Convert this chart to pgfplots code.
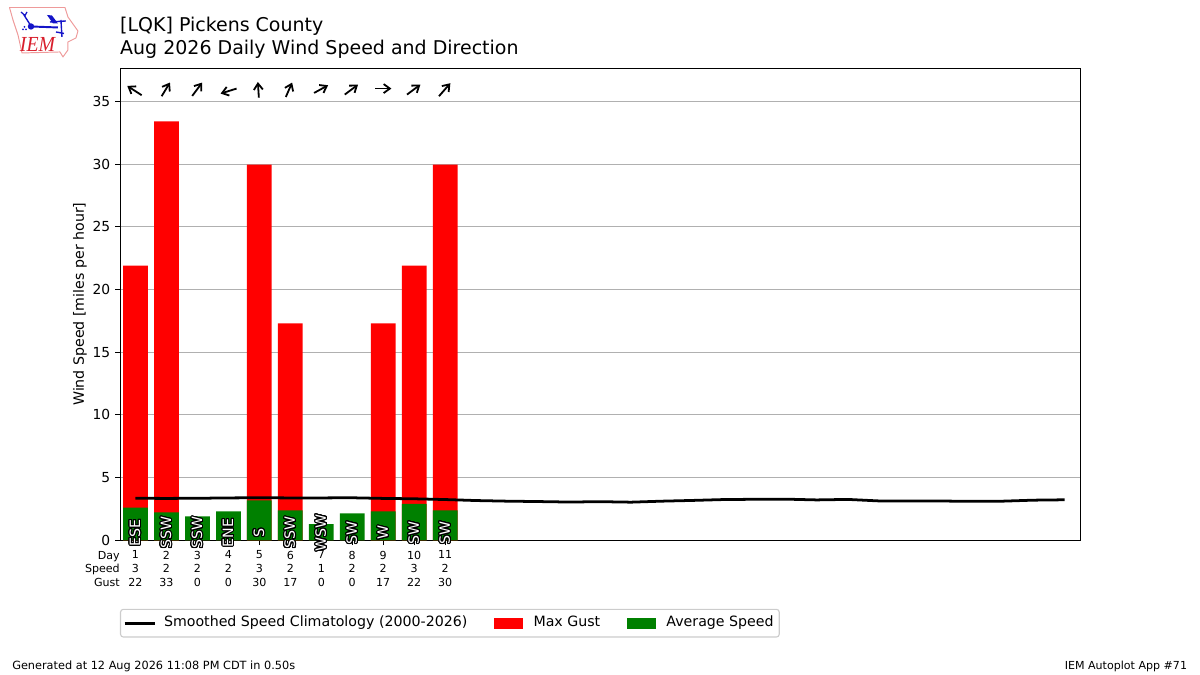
\documentclass[border=0pt]{standalone}
\usepackage{fontspec}
\setmainfont{DejaVu Sans}
\newfontfamily\logofont{Liberation Serif}
\usepackage{pgfplots}
\usepackage{pgfplotstable}
\usepackage{contour}
\pgfplotsset{compat=1.18}
\usetikzlibrary{arrows.meta}
\contourlength{0.75pt}
\contournumber{24}
\definecolor{gridgray}{HTML}{B0B0B0}
\definecolor{iemred}{HTML}{D81E2C}
\definecolor{iempink}{HTML}{EE9A9A}
\definecolor{iemblue}{HTML}{1414C8}
\definecolor{mplgreen}{HTML}{008000}
\definecolor{legframe}{HTML}{CCCCCC}

% day, average speed, max gust, direction label
\pgfplotstableread{
day avg gust dir y
1 2.60 21.9 ESE 0.6
2 2.23 33.4 SSW 0.6
3 1.91 0 SSW 0.6
4 2.31 0 ENE 0.6
5 3.19 29.95 S 0.6
6 2.39 17.3 SSW 0.6
7 1.28 0 WSW 0.6
8 2.15 0 SW 0.6
9 2.31 17.3 W 0.6
10 2.90 21.9 SW 0.6
11 2.39 29.95 SW 0.6
}\obs

\pgfplotstableread{
day clim
1 3.35
2 3.34
3 3.35
4 3.38
5 3.39
6 3.38
7 3.38
8 3.39
9 3.34
10 3.31
11 3.25
12 3.17
13 3.12
14 3.09
15 3.05
16 3.08
17 3.04
18 3.12
19 3.18
20 3.25
21 3.27
22 3.28
23 3.22
24 3.26
25 3.14
26 3.13
27 3.13
28 3.11
29 3.12
30 3.20
31 3.23
}\clim

% arrow tail and components, in axis units
\pgfplotstableread{
x y u v
1.200 35.49 -0.465 0.740
1.845 35.41 0.268 1.090
2.832 35.43 0.323 1.070
4.265 36.02 -0.516 -0.400
4.984 35.30 -0.032 1.244
5.855 35.35 0.203 1.148
6.768 35.67 0.452 0.614
7.758 35.54 0.429 0.797
8.748 36.02 0.516 0
9.768 35.54 0.432 0.797
10.800 35.41 0.368 1.037
}\winddir

\begin{document}
\begin{tikzpicture}
\path[use as bounding box] (0,0) rectangle (12in,6.75in);
\begin{axis}[
    at={(1.2in,1.347in)},
    anchor=south west,
    scale only axis,
    width=9.6in,
    height=4.723in,
    xmin=0.5, xmax=31.5,
    ymin=0, ymax=37.66,
    clip=false,
    axis line style={line width=0.6pt},
    tick style={black, line width=0.7pt},
    tick align=outside,
    major tick length=3.5pt,
    xtick pos=bottom,
    ytick pos=left,
    ytick={0,5,...,35},
    ymajorgrids,
    grid style={gridgray, line width=0.8pt},
    /pgf/number format/assume math mode=true,
    tick label style={font=\fontsize{10}{12}\selectfont},
    xtick={1,...,11},
    xticklabels={{1\\3\\22},{2\\2\\33},{3\\2\\0},{4\\2\\0},{5\\3\\30},{6\\2\\17},{7\\1\\0},{8\\2\\0},{9\\2\\17},{10\\3\\22},{11\\2\\30}},
    x tick label style={font=\fontsize{8}{9.8}\selectfont, align=center, yshift=-0.6pt},
    ylabel={Wind Speed [miles per hour]},
    ylabel style={font=\fontsize{10.25}{12}\selectfont, yshift=-2.7pt},
    legend style={
        at={(0,-0.145)}, anchor=north west,
        draw=legframe, line width=0.8pt, rounded corners=2pt,
        font=\fontsize{10.25}{12}\selectfont,
        nodes={text height=7.6pt, text depth=2.4pt},
        /tikz/every even column/.append style={column sep=17pt},
        inner xsep=2pt, inner ysep=3pt,
    },
    legend cell align=left,
    legend columns=3,
]
\addplot[ybar, bar width=0.8, bar shift=0pt, fill=red, draw=none, forget plot] table[x=day, y=gust] {\obs};
\addplot[ybar, bar width=0.8, bar shift=0pt, fill=mplgreen, draw=none, forget plot] table[x=day, y=avg] {\obs};
\addplot[black, line width=2pt, forget plot] table[x=day, y=clim] {\clim};

% wind direction arrows
\addplot[black, line width=1.3pt, forget plot,
    quiver={u=\thisrow{u}, v=\thisrow{v},
        every arrow/.append style={-{Straight Barb[length=4.5pt,width=6.5pt]}}},
] table[x=x, y=y] {\winddir};

% direction names
\addplot[draw=none, forget plot, point meta=explicit symbolic,
    nodes near coords={\contour{black}{\textcolor{white}{\pgfplotspointmeta}}},
    nodes near coords style={rotate=90, anchor=center, inner sep=0pt, font=\fontsize{10.25}{12}\selectfont},
] table[x=day, y=y, meta=dir] {\obs};

\addlegendimage{legend image code/.code={\draw[black, line width=2pt, sharp corners] (0,0) -- (0.30in,0); \path (0.36in,0);}}
\addlegendentry{Smoothed Speed Climatology (2000-2026)}
\addlegendimage{legend image code/.code={\fill[red, sharp corners] (0,-0.05in) rectangle (0.28in,0.05in); \path (0.36in,0);}}
\addlegendentry{Max Gust}
\addlegendimage{legend image code/.code={\fill[mplgreen, sharp corners] (0,-0.05in) rectangle (0.28in,0.05in); \path (0.36in,0);}}
\addlegendentry{Average Speed}

\node[anchor=base east, font=\fontsize{8}{9.7}\selectfont, inner sep=0pt] at ([yshift=-13.8pt]rel axis cs:0,0) {Day};
\node[anchor=base east, font=\fontsize{8}{9.7}\selectfont, inner sep=0pt] at ([yshift=-23.6pt]rel axis cs:0,0) {Speed};
\node[anchor=base east, font=\fontsize{8}{9.7}\selectfont, inner sep=0pt] at ([yshift=-33.2pt]rel axis cs:0,0) {Gust};
\end{axis}

% page text and logo, in pixels from the top left
\begin{scope}[shift={(0,6.75in)}, x=0.01in, y=-0.01in]
\node[anchor=base west, inner sep=0pt, font=\fontsize{13.72}{16}\selectfont] at (120,32) {[LQK] Pickens County};
\node[anchor=base west, inner sep=0pt, font=\fontsize{13.72}{16}\selectfont] at (120,55) {Aug 2026 Daily Wind Speed and Direction};
\node[anchor=base west, inner sep=0pt, font=\fontsize{8.17}{10}\selectfont] at (12,670) {Generated at 12 Aug 2026 11:08 PM CDT in 0.50s};
\node[anchor=base east, inner sep=0pt, font=\fontsize{8}{10}\selectfont] at (1188,670) {IEM Autoplot App \#71};
% logo
\draw[iempink, line width=0.7pt, line join=round] (9.5,7.5) -- (65,7.5) -- (68,17) -- (73,24) -- (78,31) -- (76,38) -- (68,42) -- (68,50) -- (63,57) -- (60,52) -- (22,53) -- (18,35) -- (13,20) -- cycle;
\begin{scope}[iemblue]
\draw[line width=1.4pt] (31,26.5) -- (58,27.5);
\fill (31,26.5) circle (3.2);
\fill (47,15) -- (52,15.5) -- (58,23.5) -- (53,23.5) -- cycle;
\draw[line width=1pt] (50,22) -- (66,21);
\draw[line width=1pt] (61,20) -- (62,37);
\draw[line width=1pt] (56,32) -- (64,33.5);
\draw[line width=1pt] (31,26) -- (24,15);
\draw[line width=0.9pt] (21,12) -- (25,15.5) -- (27,12);
\fill (23,29.5) circle (1) (26,29.5) circle (1) (24.5,27) circle (1);
\end{scope}
\node[iemred, inner sep=0pt, xscale=0.92, font=\logofont\itshape\fontsize{15.5}{16}\selectfont] at (37.5,45) {IEM};
\end{scope}
\end{tikzpicture}
\end{document}
